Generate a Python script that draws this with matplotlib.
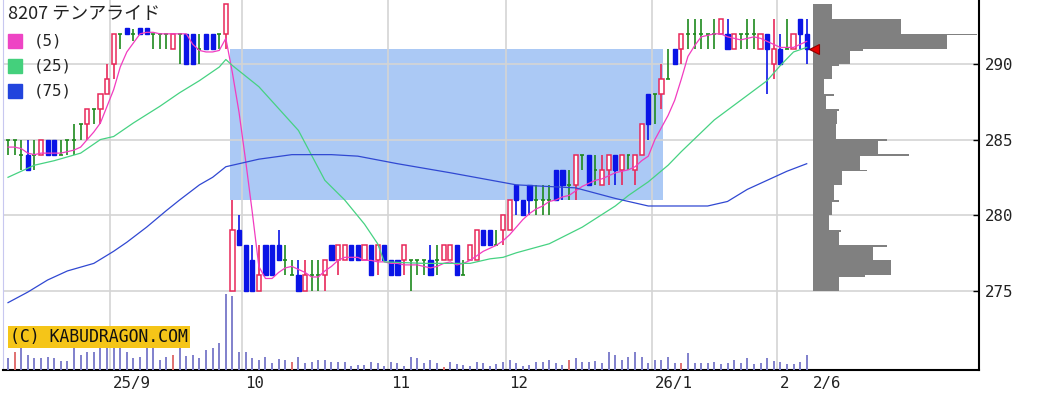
import numpy as np
import matplotlib
matplotlib.use("Agg")
import matplotlib.pyplot as plt
import matplotlib.transforms as mtransforms

# 8207 テンアライド, daily bars 2025-08-07 .. 2026-02-06
opens = [285, 285, 284, 284, 284, 284, 285, 285, 284, 285,
         285, 286, 286, 287, 287, 288, 290, 292, 292.4, 292,
         292.4, 292.4, 292, 292, 292, 291, 292, 292, 292, 291,
         292, 292, 292, 292, 275, 279, 278, 277, 275, 278,
         278, 278, 277, 276, 276, 275, 276, 276, 276, 278,
         277, 277, 278, 278, 277, 278, 277, 278, 277, 277,
         277, 277, 277, 277, 277, 277, 277, 277, 278, 276,
         277, 277, 279, 279, 278, 279, 279, 282, 281, 282,
         281, 281, 281, 283, 283, 282, 282, 284, 284, 283,
         282, 283, 284, 283, 284, 283, 284, 288, 288, 288,
         289, 291, 291, 292, 292, 292, 292, 292, 292, 292,
         291, 292, 292, 292, 291, 292, 290, 291, 291, 291,
         293, 292]
highs = [285, 285, 285, 285, 285, 285, 285, 285, 285, 285,
         286, 286, 287, 287, 288, 290, 292, 292, 292.4, 292.3,
         292.4, 292.4, 292, 292, 292, 292, 292, 292, 292, 292,
         292, 292, 292, 294, 281, 280, 278, 278, 278, 278,
         278, 279, 278, 277, 277, 277, 277, 277, 277, 278,
         278, 278, 278, 278, 278, 278, 278, 278, 277, 277,
         278, 277, 277, 277, 278, 278, 278, 278, 278, 277,
         278, 279, 279, 279, 279, 280, 281, 282, 281, 282,
         282, 282, 282, 283, 283, 283, 284, 284, 284, 284,
         284, 284, 284, 284, 284, 284, 286, 288, 288, 290,
         291, 291, 292, 293, 293, 293, 292, 293, 293, 293,
         292, 292, 293, 293, 292, 292, 293, 292, 293, 292,
         293, 293]
lows = [284, 284, 283, 283, 283, 284, 284, 284, 284, 284,
        284, 285, 285, 286, 286, 288, 289, 291, 292, 291.5,
        292, 292, 291, 291, 291, 291, 290, 290, 290, 290,
        291, 291, 291, 291, 275, 278, 275, 275, 275, 276,
        276, 277, 276, 276, 275, 275, 275, 275, 275, 277,
        276, 277, 277, 277, 277, 276, 276, 277, 276, 276,
        276, 275, 276, 276, 276, 276, 277, 277, 276, 276,
        277, 277, 278, 278, 278, 278, 279, 280, 280, 280,
        280, 280, 280, 281, 281, 281, 281, 283, 282, 282,
        282, 282, 282, 282, 283, 282, 284, 285, 286, 287,
        289, 290, 290, 291, 291, 291, 291, 291, 292, 291,
        291, 291, 291, 291, 291, 288, 289, 290, 291, 291,
        291, 290]
closes = [285, 285, 284, 283, 284, 285, 284, 284, 284, 285,
          285, 286, 287, 287, 288, 289, 292, 292, 292, 292,
          292, 292, 292, 292, 292, 292, 292, 290, 290, 291,
          291, 291, 292, 294, 279, 278, 275, 275, 276, 276,
          276, 277, 277, 276, 275, 276, 276, 276, 277, 277,
          278, 278, 277, 277, 278, 276, 278, 277, 276, 276,
          278, 277, 277, 277, 276, 277, 278, 278, 276, 276,
          278, 279, 278, 278, 278, 280, 281, 281, 280, 281,
          281, 281, 281, 281, 282, 282, 284, 284, 282, 283,
          283, 284, 283, 284, 284, 284, 286, 286, 288, 289,
          289, 290, 292, 292, 292, 292, 292, 292, 293, 291,
          292, 292, 292, 292, 292, 291, 291, 290, 291, 292,
          292, 291]
volume = [35, 55, 70, 45, 35, 35, 40, 35, 27, 27,
          70, 45, 55, 55, 70, 70, 70, 70, 55, 35,
          40, 70, 70, 30, 40, 45, 68, 42, 45, 35,
          60, 65, 80, 228, 222, 55, 55, 35, 30, 40,
          20, 33, 30, 25, 40, 22, 25, 30, 30, 25,
          25, 25, 12, 15, 15, 25, 22, 12, 25, 20,
          12, 40, 35, 22, 30, 20, 8, 25, 18, 15,
          12, 25, 22, 12, 18, 25, 30, 20, 12, 15,
          25, 25, 30, 20, 15, 30, 35, 25, 25, 27,
          20, 55, 45, 30, 40, 55, 40, 20, 30, 30,
          40, 22, 20, 50, 20, 22, 22, 25, 18, 22,
          30, 22, 35, 18, 20, 35, 27, 25, 18, 18,
          25, 45]
red_volume_days = [1, 25, 43, 66, 85, 102]

ma5 = [284.5, 284.5, 284.4, 284.1, 284.0, 284.1, 284.1, 284.1, 284.1, 284.2,
       284.3, 284.5, 285.0, 285.5, 286.1, 287.2, 288.3, 289.8, 290.8, 291.4,
       292.0, 292.1, 292.1, 292.0, 292.0, 292.0, 292.0, 292.0, 291.3, 290.9,
       290.8, 290.8, 290.9, 291.7, 289.4, 286.8, 283.6, 280.2, 276.6, 275.8,
       275.8, 276.2, 276.5, 276.6, 276.4, 276.2, 275.9, 275.9, 276.3, 276.6,
       277.0, 277.2, 277.2, 277.2, 277.0, 277.0, 276.9, 276.9, 276.8, 276.8,
       276.7, 276.7, 276.7, 276.6, 276.5, 276.6, 276.8, 276.9, 276.7, 276.8,
       277.0, 277.3, 277.6, 277.8, 278.0, 278.3, 278.7, 279.2, 279.7, 280.1,
       280.4, 280.6, 280.9, 281.0, 281.2, 281.3, 281.6, 281.9, 282.1, 282.3,
       282.4, 282.6, 282.8, 282.9, 283.0, 283.2, 283.6, 283.9, 285.0, 285.8,
       286.6, 287.6, 289.0, 290.5, 291.2, 291.8, 291.9, 292.0, 292.0, 291.8,
       291.7, 291.6, 291.7, 291.8, 291.7, 291.5, 291.3, 291.1, 291.1, 291.1,
       291.3, 291.5]
ma25_day = [0, 4, 7, 11, 14, 16, 19, 23, 26, 29, 32, 33, 34, 38, 44, 48, 51, 54, 56, 57,
            63, 70, 73, 75, 77, 82, 87, 92, 94, 97, 100, 102, 107, 111, 115, 117, 119, 121]
ma25_val = [282.5, 283.3, 283.6, 284.1, 285.0, 285.2, 286.1, 287.2, 288.1, 288.9,
            289.8, 290.3, 289.9, 288.5, 285.6, 282.3, 281.0, 279.4, 278.1, 276.9,
            276.8, 276.8, 277.1, 277.2, 277.5, 278.1, 279.2, 280.6, 281.3, 282.2,
            283.3, 284.2, 286.3, 287.6, 288.9, 289.9, 290.8, 291.1]
ma75_day = [0, 3, 6, 9, 13, 16, 18, 21, 24, 26, 29, 31, 33, 35, 38, 43, 49, 53, 59, 67,
            72, 77, 86, 92, 97, 102, 106, 109, 112, 115, 118, 121]
ma75_val = [274.2, 274.9, 275.7, 276.3, 276.8, 277.6, 278.2, 279.2, 280.3, 281.0,
            282.0, 282.5, 283.2, 283.4, 283.7, 284.0, 284.0, 283.9, 283.4, 282.8,
            282.4, 282.0, 281.8, 281.1, 280.6, 280.6, 280.6, 280.9, 281.7, 282.3,
            282.9, 283.4]

# price-by-volume profile on the right (1 yen bins, lower edge)
profile_price = [293, 292, 291, 290, 289, 288, 287, 286, 285, 284,
                 283, 282, 281, 280, 279, 278, 277, 276, 275]
profile_vol = [19, 88, 134, 37, 19, 11, 13, 24, 23, 65,
               47, 29, 21, 19, 16, 26, 60, 78, 26]
edge_price = [292, 291, 290, 288, 287, 285, 284, 283, 281, 279, 278, 276]
edge_vol = [164, 50, 26, 21, 26, 74, 96, 54, 26, 28, 74, 52]

# unfilled gap (window) after the Sep 29 drop
gap_low, gap_high = 281, 291
gap_from, gap_to = 33.6, 99.2

month_starts = [16, 36, 58, 76, 98, 117]
month_labels = ["25/9", "10", "11", "12", "26/1", "2"]
last_label = "2/6"

RED = "#e8285a"
BLUE = "#0a14e6"
GREEN = "#1e8a1e"
MONO = "DejaVu Sans Mono"

opens = np.array(opens, float)
closes = np.array(closes, float)
highs = np.array(highs, float)
lows = np.array(lows, float)
n = len(closes)
days = np.arange(n)

fig = plt.figure(figsize=(10.49, 3.97), dpi=100)
ax = fig.add_axes([3 / 1049, 27 / 397, 976 / 1049, 370 / 397])
vax = ax.twinx()  # volume overlay (twinx moves ax ticks left, fixed below)
ax.set_xlim(-0.76, 147.1)
ax.set_ylim(269.74, 294.24)

# gap shading
ax.fill_between([gap_from, gap_to], gap_low, gap_high, color="#abc9f5", lw=0, zorder=1)

# candles
up = closes > opens
down = closes < opens
flat = closes == opens
colors = np.where(up, RED, np.where(down, BLUE, GREEN))
ax.vlines(days, lows, highs, colors=colors, lw=1.2, zorder=3)
ax.bar(days[up], closes[up] - opens[up], bottom=opens[up], width=0.64,
       facecolor="white", edgecolor=RED, lw=1.1, zorder=4)
ax.bar(days[down], opens[down] - closes[down], bottom=closes[down], width=0.64,
       facecolor=BLUE, edgecolor=BLUE, lw=1.0, zorder=4)
ax.hlines(opens[flat], days[flat] - 0.3, days[flat] + 0.3, colors=GREEN, lw=1.2, zorder=4)

# moving averages
ax.plot(np.arange(len(ma5)), ma5, color="#f23cc0", lw=0.9, zorder=5)
ax.plot(ma25_day, ma25_val, color="#46d282", lw=0.9, zorder=5)
ax.plot(ma75_day, ma75_val, color="#3048d2", lw=0.9, zorder=5)

# volume profile
px_per_day = 6.6
ax.barh(np.array(profile_price) + 0.5, np.array(profile_vol) / px_per_day, left=n,
        height=1.0, color="#808080", lw=0, zorder=2)
ax.barh(np.array(edge_price) - 0.05, np.array(edge_vol) / px_per_day, left=n,
        height=0.12, color="#808080", lw=0, zorder=2)

# last price marker
ax.plot(n + 0.15, closes[-1], marker="<", ms=7, color="#e80000", mec="#900000",
        mew=0.8, zorder=6, clip_on=False)

# axes styling
ax.set_axisbelow("line")
ax.grid(True, which="major", color="#d4d4d4", lw=1.2)
ax.set_xticks([m - 0.5 for m in month_starts], month_labels)
ax.set_xticks([n - 0.5], [last_label], minor=True)
ax.tick_params(axis="x", which="both", length=0, pad=4, labelsize=11.3, labelcolor="#222222")
shift = mtransforms.ScaledTranslation(3 / 100, 0, fig.dpi_scale_trans)
for lab in ax.get_xticklabels(which="both"):
    lab.set_horizontalalignment("left")
    lab.set_transform(lab.get_transform() + shift)
    lab.set_family(MONO)

ax.yaxis.tick_right()
ax.yaxis.set_label_position("right")
ax.set_yticks([275, 280, 285, 290])
ax.tick_params(axis="y", which="both", left=False, labelleft=False, right=True, labelright=True,
               direction="in", length=4, width=1, pad=4, labelsize=11.3, labelcolor="#222222")
for lab in ax.get_yticklabels():
    lab.set_family(MONO)
ax.spines["top"].set_visible(False)
ax.spines["left"].set_color("#c8c8f0")
ax.spines["right"].set_linewidth(1.5)
ax.spines["bottom"].set_linewidth(1.5)

# volume bars
vax.set_ylim(0, 1110)
vcolors = ["#e07070" if d in red_volume_days else "#8080cc" for d in days]
vax.vlines(days, 0, volume, colors=vcolors, lw=1.4)
vax.set_axis_off()

vax.text(0.0072, 0.089, "(C) KABUDRAGON.COM", transform=vax.transAxes,
         family=MONO, fontsize=11.9, color="#111111", va="center", ha="left",
         bbox=dict(boxstyle="square,pad=0.12", fc="#f5c518", ec="none"), zorder=6)

# title and legend
jp = ["Noto Sans CJK JP", "DejaVu Sans"]
ax.text(0.005, 0.962, "8207 テンアライド", transform=ax.transAxes, family=jp,
        fontsize=13, color="#222222", va="center", ha="left", zorder=7)
legend = [("(5)", "#ee44c4"), ("(25)", "#44d07c"), ("(75)", "#2244dd")]
for k, (lab, col) in enumerate(legend):
    y = 1 - (41 + 25 * k) / 370
    ax.plot([0.0123], [y], marker="s", ms=10, color=col, transform=ax.transAxes,
            clip_on=False, zorder=7)
    ax.text(0.032, y, lab, transform=ax.transAxes, family=MONO, fontsize=11.3,
            color="#222222", va="center", ha="left", zorder=7)

fig.savefig("out.png", dpi=100)
